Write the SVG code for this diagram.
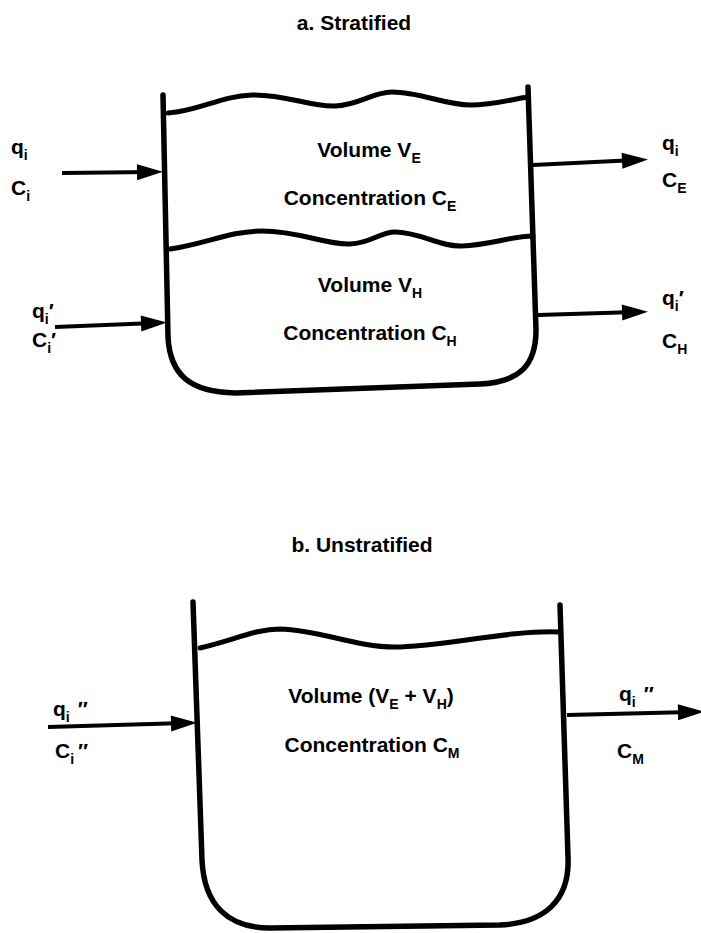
<svg xmlns="http://www.w3.org/2000/svg" width="701" height="933" viewBox="0 0 701 933">
<defs>
<style>
.t{font-family:"Liberation Sans",Arial,sans-serif;font-weight:bold;font-size:21px;fill:#000}
.sub{font-size:14px}
.wall{fill:none;stroke:#000;stroke-width:5.5;stroke-linecap:round;stroke-linejoin:round}
.wave{fill:none;stroke:#000;stroke-width:5;stroke-linecap:round}
.arr{stroke:#000;stroke-width:4;fill:none;marker-end:url(#ah)}
</style>
<marker id="ah" markerUnits="userSpaceOnUse" markerWidth="28" markerHeight="18" refX="14" refY="8" orient="auto" overflow="visible">
<path d="M0,0 L26,8 L0,16 Z" fill="#000"/>
</marker>
</defs>
<rect width="701" height="933" fill="#fff"/>

<text id="title-a" class="t" x="354" y="30" text-anchor="middle" font-size="20">a. Stratified</text>

<g id="tank-a">
<path class="wall" d="M163,95 L168,337 C170,375 190,392 235,393 L480,384 C520,382 536,365 536,330 L528,87"/>
<path class="wave" d="M168,113 C200,111 220,96 252,95 C285,94 310,107 335,106 C360,105 372,92 392,92 C420,92 445,105 470,105 C495,105 512,99 528,97"/>
<path class="wave" d="M170,249 C205,244 230,231 262,231 C300,231 325,245 350,244 C372,243 380,232 395,232 C420,232 440,247 462,246 C490,245 512,236 533,236"/>
<text class="t" x="369" y="157" text-anchor="middle">Volume V<tspan class="sub" dy="6">E</tspan></text>
<text class="t" x="370" y="205" text-anchor="middle">Concentration C<tspan class="sub" dy="6">E</tspan></text>
<text class="t" x="370" y="292" text-anchor="middle">Volume V<tspan class="sub" dy="6">H</tspan></text>
<text class="t" x="370" y="340" text-anchor="middle">Concentration C<tspan class="sub" dy="6">H</tspan></text>
</g>

<g id="labels-a">
<text class="t" x="11" y="154">q<tspan class="sub" dy="6">i</tspan></text>
<text class="t" x="11" y="195">C<tspan class="sub" dy="6">i</tspan></text>
<text class="t" x="32" y="318">q<tspan class="sub" dy="6">i</tspan><tspan dy="-6">′</tspan></text>
<text class="t" x="32" y="347">C<tspan class="sub" dy="6">i</tspan><tspan dy="-6">′</tspan></text>
<text class="t" x="662" y="150">q<tspan class="sub" dy="6">i</tspan></text>
<text class="t" x="662" y="187">C<tspan class="sub" dy="6">E</tspan></text>
<text class="t" x="662" y="305">q<tspan class="sub" dy="6">i</tspan><tspan dy="-6">′</tspan></text>
<text class="t" x="662" y="348">C<tspan class="sub" dy="6">H</tspan></text>
</g>

<text id="title-b" class="t" x="362" y="552" text-anchor="middle" font-size="20">b. Unstratified</text>

<g id="tank-b">
<path class="wall" d="M193,602 L202,860 C204,905 228,928 270,928 L500,925 C545,923 570,900 568,857 L560,605"/>
<path class="wave" d="M200,648 C235,640 255,629 280,629 C320,630 355,647 395,647 C440,647 510,630 558,632"/>
<text class="t" x="371" y="703" text-anchor="middle">Volume (V<tspan class="sub" dy="6">E</tspan><tspan dy="-6"> + V</tspan><tspan class="sub" dy="6">H</tspan><tspan dy="-6">)</tspan></text>
<text class="t" x="372" y="752" text-anchor="middle">Concentration C<tspan class="sub" dy="6">M</tspan></text>
</g>

<g id="labels-b">
<text class="t" x="53" y="716">q<tspan class="sub" dy="6">i</tspan><tspan dy="-6" dx="8">″</tspan></text>
<text class="t" x="55" y="758">C<tspan class="sub" dy="6">i</tspan><tspan dy="-6" dx="4">″</tspan></text>
<text class="t" x="619" y="701">q<tspan class="sub" dy="6">i</tspan><tspan dy="-6" dx="8">″</tspan></text>
<text class="t" x="617" y="758">C<tspan class="sub" dy="6">M</tspan></text>
</g>

<g id="connectors">
<line class="arr" x1="62" y1="173" x2="151" y2="172"/>
<line class="arr" x1="55" y1="327" x2="155" y2="323"/>
<line class="arr" x1="533" y1="165" x2="636" y2="160"/>
<line class="arr" x1="538" y1="315" x2="636" y2="312"/>
<line class="arr" x1="48" y1="727" x2="185" y2="723"/>
<line class="arr" x1="567" y1="715" x2="692" y2="712"/>
</g>
</svg>
